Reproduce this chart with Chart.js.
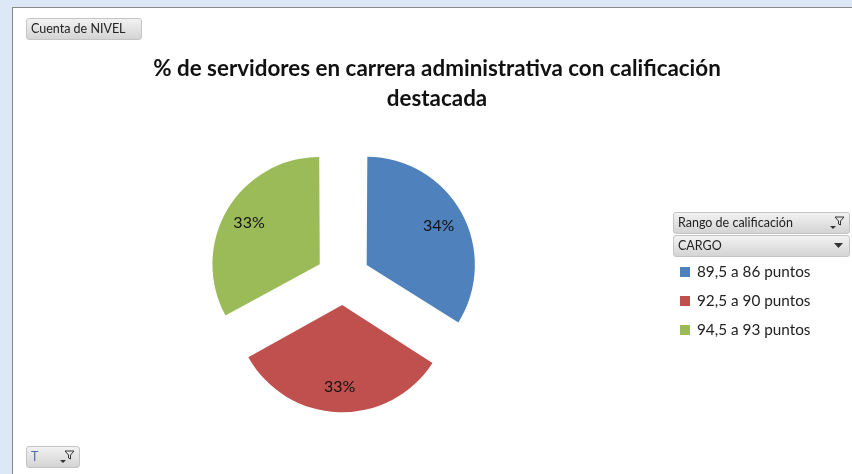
<!DOCTYPE html>
<html>
<head>
<meta charset="utf-8">
<script src="https://cdn.jsdelivr.net/npm/chart.js@4"></script>
<style>
    html, body { margin: 0; padding: 0; }
    body { width: 852px; height: 474px; overflow: hidden; background: #dde8f6; position: relative; font-family: Lato, "Open Sans", sans-serif; }
    #frame { position: absolute; left: 12px; top: 7px; width: 860px; height: 480px; background: #fff; border: 1px solid #8a8a8a; box-sizing: border-box; }
    #chartBox { position: absolute; left: 12px; top: 7px; width: 850px; height: 467px; }
    #title { position: absolute; left: 12px; top: 53px; width: 850px; text-align: center; font-weight: bold; font-size: 22.4px; line-height: 30px; color: #111; }
    .fieldBtn { position: absolute; box-sizing: border-box; height: 22px; border: 1px solid #c4c4c4; border-radius: 3px;
        background: linear-gradient(#f2f2f2, #d4d4d4); font-size: 12.5px; color: #222; line-height: 20px; padding-left: 4px; }
    .fieldBtn svg { position: absolute; top: 3px; }
    #legend { position: absolute; left: 680px; top: 258px; font-size: 15.3px; color: #222; }
    #legend div { height: 29px; line-height: 26px; }
    #legend span.sw { display: inline-block; width: 10px; height: 10px; margin-right: 7px; }
</style>
</head>
<body>
<div id="frame"></div>
<div id="chartBox"><canvas id="pieChart"></canvas></div>
<div id="title"></div>
<div class="fieldBtn" style="left:26px; top:18px; width:116px;">Cuenta de NIVEL</div>
<div class="fieldBtn" style="left:673px; top:212px; width:177px;">Rango de calificación
    <svg style="right:4px" width="16" height="14" viewBox="0 0 16 14"><path d="M1 10 L7 10 L4 13 Z" fill="#333"/><path d="M6 1 L15 1 L11.5 5 L11.5 9 L9.5 8 L9.5 5 Z" fill="none" stroke="#333" stroke-width="1"/></svg></div>
<div class="fieldBtn" style="left:673px; top:235px; width:177px;">CARGO
    <svg style="right:6px; top:7px" width="9" height="6" viewBox="0 0 9 6"><path d="M0 0 L9 0 L4.5 5 Z" fill="#333"/></svg></div>
<div class="fieldBtn" style="left:26px; top:446px; width:54px;"><span style="color:#4f6fa8">T</span>
    <svg style="right:4px" width="16" height="14" viewBox="0 0 16 14"><path d="M1 10 L7 10 L4 13 Z" fill="#333"/><path d="M6 1 L15 1 L11.5 5 L11.5 9 L9.5 8 L9.5 5 Z" fill="none" stroke="#333" stroke-width="1"/></svg></div>
<div id="legend"></div>

<script>
// Chart data
const titleLines = ['% de servidores en carrera administrativa con calificación', 'destacada'];
const categories = ['89,5 a 86 puntos', '92,5 a 90 puntos', '94,5 a 93 puntos'];
const percentages = [34, 33, 33];
const sliceColors = ['#4f81bd', '#c0504d', '#9bbb59'];

// Title
document.getElementById('title').innerHTML = titleLines.join('<br>');

// Build the legend from the categories
const legend = document.getElementById('legend');
categories.forEach(function (label, i) {
    const row = document.createElement('div');
    row.innerHTML = '<span class="sw" style="background:' + sliceColors[i] + '"></span>' + label;
    legend.appendChild(row);
});

// Draw the percentage inside each slice
const sliceLabels = {
    id: 'sliceLabels',
    afterDatasetsDraw(chart) {
        const ctx = chart.ctx;
        const meta = chart.getDatasetMeta(0);
        ctx.save();
        ctx.font = '16px Lato, "Open Sans", sans-serif';
        ctx.fillStyle = '#111';
        ctx.textAlign = 'center';
        ctx.textBaseline = 'middle';
        meta.data.forEach(function (arc, i) {
            const p = arc.getProps(['x', 'y', 'startAngle', 'endAngle', 'outerRadius']);
            const mid = (p.startAngle + p.endAngle) / 2;
            // arc offset is drawn at a quarter of the option value
            const dist = arc.options.offset / 4 + p.outerRadius * 0.79;
            ctx.fillText(percentages[i] + '%', p.x + Math.cos(mid) * dist, p.y + Math.sin(mid) * dist);
        });
        ctx.restore();
    }
};

const ctx = document.getElementById('pieChart').getContext('2d');
const pieChart = new Chart(ctx, {
    type: 'pie',
    data: {
        labels: categories,
        datasets: [{
            data: percentages,
            backgroundColor: sliceColors,
            borderWidth: 0,
            offset: 108,
            radius: 104
        }]
    },
    options: {
        responsive: true,
        maintainAspectRatio: false,
        animation: false,
        layout: {
            padding: { left: 20, right: 208, top: 115, bottom: 40 }
        },
        plugins: {
            legend: { display: false },
            tooltip: { enabled: false },
            title: { display: false }
        }
    },
    plugins: [sliceLabels]
});
</script>
</body>
</html>
